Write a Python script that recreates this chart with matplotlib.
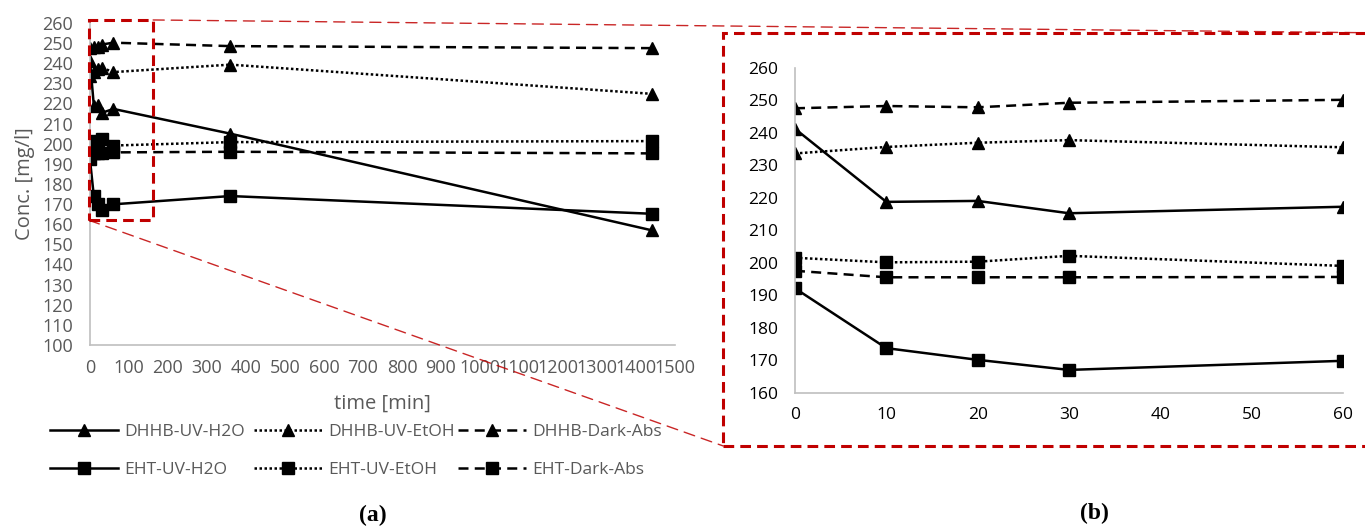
import matplotlib.pyplot as plt
from matplotlib.patches import Rectangle, ConnectionPatch

plt.rcParams['font.family'] = ['Open Sans', 'DejaVu Sans']

# sampling times [min]
t = [0, 10, 20, 30, 60, 360, 1440]

# concentrations [mg/l]
dhhb_uv_h2o = [241.3, 218.8, 219.1, 215.3, 217.3, 205.0, 157.0]
dhhb_uv_etoh = [233.7, 235.7, 237.0, 237.8, 235.6, 239.3, 224.8]
dhhb_dark_abs = [247.6, 248.3, 247.9, 249.3, 250.2, 248.5, 247.5]
eht_uv_h2o = [192.2, 173.8, 170.2, 167.1, 169.9, 174.0, 165.2]
eht_uv_etoh = [201.6, 200.2, 200.4, 202.2, 199.1, 200.8, 201.3]
eht_dark_abs = [197.6, 195.6, 195.6, 195.6, 195.7, 196.0, 195.2]

names = ['DHHB-UV-H2O', 'DHHB-UV-EtOH', 'DHHB-Dark-Abs',
         'EHT-UV-H2O', 'EHT-UV-EtOH', 'EHT-Dark-Abs']
series = [dhhb_uv_h2o, dhhb_uv_etoh, dhhb_dark_abs,
          eht_uv_h2o, eht_uv_etoh, eht_dark_abs]
markers = ['^', '^', '^', 's', 's', 's']
styles = ['-', (0, (1, 1)), (0, (4, 2.5))] * 2

GRAY = '#595959'
AXIS = '#bfbfbf'
RED = '#c00000'

fig = plt.figure(figsize=(13.65, 5.27), dpi=100)
ax1 = fig.add_axes([0.0659, 0.3454, 0.4286, 0.611])
ax2 = fig.add_axes([0.5824, 0.2543, 0.4015, 0.6167])


def style_axes(ax, color, size):
    for s in ['top', 'right']:
        ax.spines[s].set_visible(False)
    for s in ['left', 'bottom']:
        ax.spines[s].set_color(AXIS)
        ax.spines[s].set_linewidth(1.2)
    ax.tick_params(length=0, labelsize=size, labelcolor=color)
    ax.tick_params(axis='y', pad=12)
    ax.tick_params(axis='x', pad=10)


handles = []
for y, name, m, ls in zip(series, names, markers, styles):
    h, = ax1.plot(t, y, color='black', lw=1.8, linestyle=ls, marker=m,
                  markersize=8, label=name)
    handles.append(h)
    n = sum(1 for v in t if v <= 60)
    ax2.plot(t[:n], y[:n], color='black', lw=1.8, linestyle=ls, marker=m,
             markersize=8)

ax1.set_xlim(0, 1500)
ax1.set_ylim(100, 260)
ax1.set_xticks(range(0, 1501, 100))
ax1.set_yticks(range(100, 261, 10))
ax1.set_xlabel('time [min]', fontsize=14.5, color=GRAY, labelpad=12)
ax1.set_ylabel('Conc. [mg/l]', fontsize=14.5, color=GRAY, labelpad=5)
style_axes(ax1, GRAY, 13)

ax2.set_xlim(0, 60)
ax2.set_ylim(160, 260)
ax2.set_xticks(range(0, 61, 10))
ax2.set_yticks(range(160, 261, 10))
style_axes(ax2, 'black', 12.5)

# legend: three columns, DHHB on the first row, EHT on the second
col_x = [50, 254, 458]
for i, x in enumerate(col_x):
    fig.legend([handles[i], handles[i + 3]], [names[i], names[i + 3]],
               loc='center left', bbox_to_anchor=(x / 1365, 1 - 451 / 527),
               frameon=False, fontsize=12.5, labelcolor=GRAY,
               handlelength=3.9, handletextpad=0.4, borderpad=0,
               borderaxespad=0, labelspacing=1.25, numpoints=1)

# zoom box on the overview and its enlarged frame
box = Rectangle((-3, 162), 165, 99.5, transform=ax1.transData, fill=False,
                edgecolor=RED, lw=2.2, linestyle=(0, (3.5, 2)),
                clip_on=False, zorder=5)
ax1.add_patch(box)
frame = Rectangle((-0.131, -0.163), 1.2, 1.271, transform=ax2.transAxes,
                  fill=False, edgecolor=RED, lw=2.2, linestyle=(0, (3.5, 2)),
                  clip_on=False, zorder=5)
ax2.add_patch(frame)

for pa, pb in [((162, 261.5), (1.069, 1.108)), ((-3, 162), (-0.131, -0.163))]:
    con = ConnectionPatch(xyA=pa, coordsA=ax1.transData,
                          xyB=pb, coordsB=ax2.transAxes,
                          color=RED, lw=1.0, linestyle=(0, (8, 5)), alpha=0.85)
    fig.add_artist(con)

fig.text(373 / 1365, 1 - 515 / 527, '(a)', ha='center', va='center',
         fontsize=17, fontweight='bold', family='Liberation Serif')
fig.text(1094 / 1365, 1 - 513 / 527, '(b)', ha='center', va='center',
         fontsize=17, fontweight='bold', family='Liberation Serif')

fig.savefig('out.png', dpi=100)
